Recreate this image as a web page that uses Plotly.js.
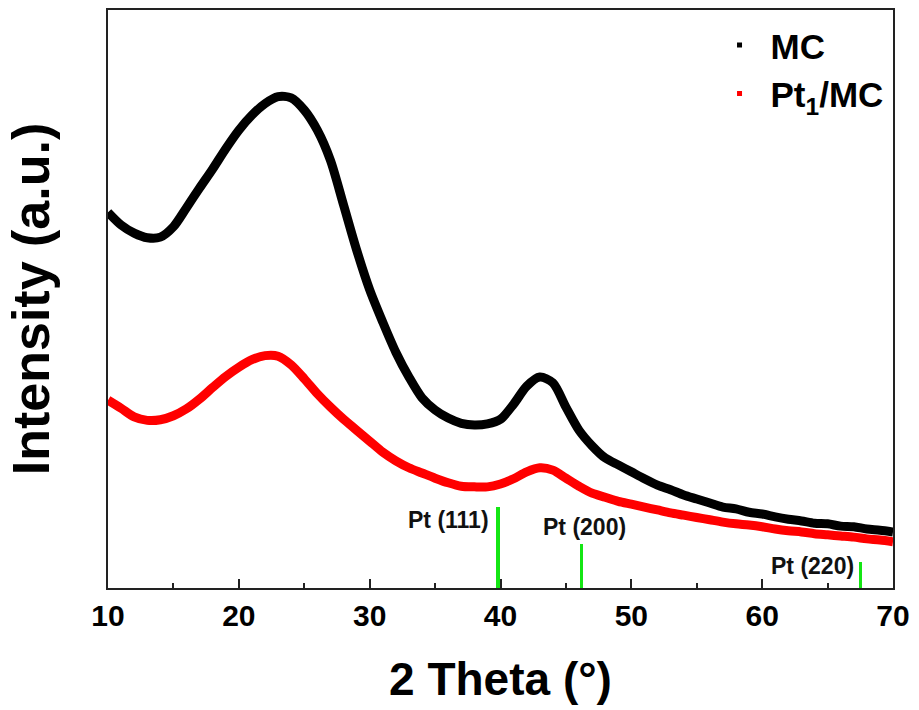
<!DOCTYPE html>
<html>
<head>
<meta charset="utf-8">
<script src="https://cdn.plot.ly/plotly-3.0.1.min.js"></script>
<style>html,body{margin:0;padding:0;background:#fff;}#chart{width:919px;height:710px;}</style>
</head>
<body>
<div id="chart"></div>
<script>
// 2 Theta (degrees)
const theta = [10,11,12,13,14,15,16,17,18,19,20,21,22,23,24,25,26,27,28,29,30,31,32,33,34,35,36,37,38,39,40,41,42,43,44,45,46,47,48,49,50,51,52,53,54,55,56,57,58,59,60,61,62,63,64,65,66,67,68,69,70];
// Intensity (a.u.), MC
const mc = [650,628,614,606,607,625,658,692,725,760,792,818,838,850,848,827,792,740,663,585,516,460,408,365,329,308,294,285,282,284,292,318,349,365,355,313,273,246,225,213,201,189,178,170,161,154,147,140,137,131,128,123,119,116,112,111,107,106,102,100,97];
// Intensity (a.u.), Pt1/MC
const ptmc = [325,311,296,290,291,298,310,327,347,366,382,395,402,401,386,362,336,313,292,273,254,235,220,208,199,190,182,176,175,175,180,189,201,208,204,190,176,164,157,150,145,140,135,130,126,122,118,114,111,109,106,102,99,97,94,92,90,88,85,83,80];
// Pt reference reflections
const refLabels = ['Pt (111)','Pt (200)','Pt (220)'];
const refPos = [39.8, 46.2, 67.5];
const refHeight = [140, 76, 45];
const seriesNames = ['MC', 'Pt<sub>1</sub>/MC'];

const font = 'Arial, "Liberation Sans", sans-serif';
const traces = [
  {type:'bar', x:refPos, y:refHeight, width:0.25, marker:{color:'#14e614', line:{width:0}}, showlegend:false, hoverinfo:'skip'},
  {type:'scatter', mode:'lines', x:theta, y:mc, line:{color:'#000000', width:9, shape:'spline', smoothing:0.8}, showlegend:false},
  {type:'scatter', mode:'lines', x:theta, y:ptmc, line:{color:'#ff0000', width:9, shape:'spline', smoothing:0.8}, showlegend:false},
  {type:'scatter', mode:'markers', x:[null], y:[null], name:seriesNames[0], marker:{color:'#000000', size:5, symbol:'square'}},
  {type:'scatter', mode:'markers', x:[null], y:[null], name:seriesNames[1], marker:{color:'#ff0000', size:5, symbol:'square'}}
];

const annPos = [
  {x:39.3, y:118, xanchor:'right', yanchor:'middle'},
  {x:46.4, y:106, xanchor:'center', yanchor:'middle'},
  {x:67.2, y:38, xanchor:'right', yanchor:'middle'}
];
const annotations = refLabels.map((t,i)=>Object.assign({text:t, xref:'x', yref:'y', showarrow:false, font:{family:font, size:23, weight:'bold', color:'#111'}}, annPos[i]));

const layout = {
  width:919, height:710,
  margin:{l:108, r:26, t:10, b:122},
  paper_bgcolor:'#fff', plot_bgcolor:'#fff',
  showlegend:true,
  legend:{x:0.765, y:0.99, xanchor:'left', yanchor:'top', bgcolor:'rgba(0,0,0,0)', font:{family:font, size:35, weight:'bold', color:'#000'}, itemwidth:52, tracegroupgap:0},
  bargap:0,
  xaxis:{range:[10,70], dtick:10, tick0:10, ticks:'inside', ticklen:9, tickwidth:2, tickcolor:'#222',
    minor:{dtick:5, ticks:'inside', ticklen:5, tickwidth:2, tickcolor:'#222'},
    showline:true, linecolor:'#222', linewidth:2, mirror:true, showgrid:false, zeroline:false,
    tickfont:{family:font, size:30, weight:'bold', color:'#000'},
    title:{text:'2 Theta (°)', font:{family:font, size:46, weight:'bold', color:'#000'}, standoff:32}},
  yaxis:{range:[0,1000], showticklabels:false, ticks:'', showline:true, linecolor:'#222', linewidth:2, mirror:true, showgrid:false, zeroline:false,
    title:{text:'Intensity (a.u.)', font:{family:font, size:52, weight:'bold', color:'#000'}, standoff:40}},
  annotations:annotations
};
Plotly.newPlot('chart', traces, layout, {displayModeBar:false, staticPlot:true});
</script>
</body>
</html>
